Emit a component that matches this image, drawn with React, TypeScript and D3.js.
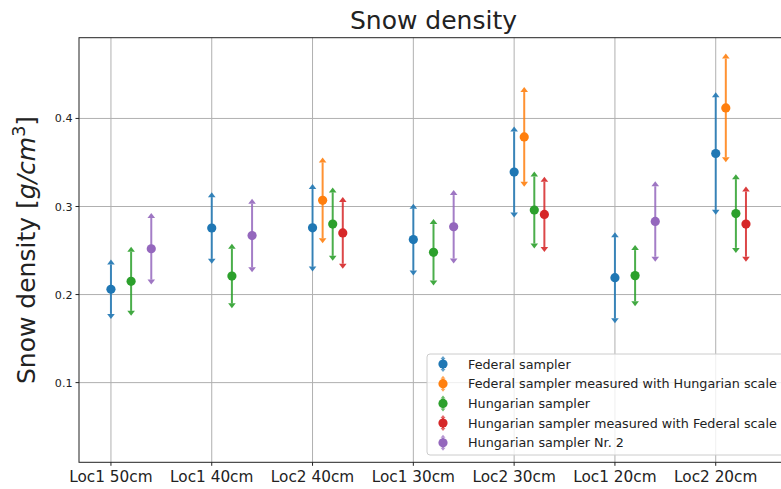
import React from "react";
import * as d3 from "d3";

const categories = ["Loc1 50cm", "Loc1 40cm", "Loc2 40cm", "Loc1 30cm", "Loc2 30cm", "Loc1 20cm", "Loc2 20cm"];
const seriesNames = [
  "Federal sampler",
  "Federal sampler measured with Hungarian scale",
  "Hungarian sampler",
  "Hungarian sampler measured with Federal scale",
  "Hungarian sampler Nr. 2",
];
const seriesColors = ["#1f77b4", "#ff7f0e", "#2ca02c", "#d62728", "#9467bd"];

const federal = [0.206, 0.2756, 0.2758, 0.2624, 0.3391, 0.2192, 0.3602];
const federalErr = [0.028, 0.035, 0.044, 0.035, 0.046, 0.046, 0.064];
const federalHu = [null, null, 0.307, null, 0.379, null, 0.412];
const federalHuErr = [null, null, 0.043, null, 0.051, null, 0.056];
const hungarian = [0.215, 0.221, 0.28, 0.248, 0.296, 0.2215, 0.292];
const hungarianErr = [0.0335, 0.031, 0.036, 0.032, 0.038, 0.029, 0.039];
const hungarianFed = [null, null, 0.27, null, 0.291, null, 0.28];
const hungarianFedErr = [null, null, 0.035, null, 0.037, null, 0.037];
const hungarian2 = [0.252, 0.267, null, 0.277, null, 0.283, null];
const hungarian2Err = [0.035, 0.036, null, 0.036, null, 0.04, null];

const seriesValues = [federal, federalHu, hungarian, hungarianFed, hungarian2];
const seriesErrors = [federalErr, federalHuErr, hungarianErr, hungarianFedErr, hungarian2Err];
const seriesOffsets = [0, 0.1, 0.2, 0.3, 0.4];
const yTicks = [0.1, 0.2, 0.3, 0.4];

const W = 781;
const H = 489;
const left = 79;
const right = 788;
const top = 37.7;
const bottom = 462.3;

const FONT = "DejaVu Sans, sans-serif";

export default function App() {
  const x = d3.scaleLinear().domain([-0.317, 6.717]).range([left, right]);
  const y = d3.scaleLinear().domain([0.0095, 0.4917]).range([bottom, top]);

  const tri = (cx: number, cy: number, dir: number) => {
    const h = 5;
    const w = 3.8;
    return `M${cx - w},${cy} L${cx + w},${cy} L${cx},${cy - dir * h} Z`;
  };

  const marks: any[] = [];
  seriesValues.forEach((vals, s) => {
    vals.forEach((v, i) => {
      if (v === null) return;
      const e = seriesErrors[s][i] as number;
      const cx = x(i + seriesOffsets[s]);
      const yt = y(v + e);
      const yb = y(v - e);
      const c = seriesColors[s];
      marks.push(
        <g key={`${s}-${i}`}>
          <line x1={cx} x2={cx} y1={yt} y2={yb} stroke={c} strokeWidth={2} strokeOpacity={0.85} />
          <path d={tri(cx, yt, 1)} fill={c} fillOpacity={0.9} />
          <path d={tri(cx, yb, -1)} fill={c} fillOpacity={0.9} />
          <circle cx={cx} cy={y(v)} r={4.6} fill={c} />
        </g>
      );
    });
  });

  const legLeft = 427;
  const legTop = 354;
  const legBottom = 455;
  const legRight = 786;
  const rowY = (k: number) => 364 + k * 19.7;

  return (
    <svg width={W} height={H} style={{ position: "absolute", left: 0, top: 0, background: "#fff" }} fontFamily={FONT}>
      <rect x={0} y={0} width={W} height={H} fill="#fff" />
      {categories.map((c, i) => (
        <line key={`gx${i}`} x1={x(i)} x2={x(i)} y1={top} y2={bottom} stroke="#b0b0b0" strokeWidth={1} />
      ))}
      {yTicks.map((t) => (
        <line key={`gy${t}`} x1={left} x2={right} y1={y(t)} y2={y(t)} stroke="#b0b0b0" strokeWidth={1} />
      ))}
      {marks}
      <rect x={left} y={top} width={right - left} height={bottom - top} fill="none" stroke="#222" strokeWidth={1} />
      {yTicks.map((t) => (
        <g key={`yt${t}`}>
          <line x1={left - 3.5} x2={left} y1={y(t)} y2={y(t)} stroke="#222" strokeWidth={1} />
          <text x={left - 6.5} y={y(t) + 4} textAnchor="end" fontSize={11.1} fill="#222">
            {d3.format(".1f")(t)}
          </text>
        </g>
      ))}
      {categories.map((c, i) => (
        <g key={`xt${i}`}>
          <line x1={x(i)} x2={x(i)} y1={bottom} y2={bottom + 3.5} stroke="#222" strokeWidth={1} />
          <text x={x(i)} y={bottom + 19.5} textAnchor="middle" fontSize={15.3} fill="#222">
            {c}
          </text>
        </g>
      ))}
      <text x={(left + right) / 2} y={29} textAnchor="middle" fontSize={25} fill="#222">
        Snow density
      </text>
      <text transform={`translate(35,${(top + bottom) / 2}) rotate(-90)`} textAnchor="middle" fontSize={25} fill="#222">
        Snow density [<tspan fontStyle="italic">g</tspan>
        <tspan fontStyle="italic">/</tspan>
        <tspan fontStyle="italic">cm</tspan>
        <tspan fontSize={17.5} dy={-10}>3</tspan>
        <tspan dy={10}>]</tspan>
      </text>
      <rect x={legLeft} y={legTop} width={legRight - legLeft} height={legBottom - legTop} rx={3} fill="#fff" fillOpacity={0.8} stroke="#cccccc" strokeWidth={1} />
      {seriesNames.map((n, k) => {
        const cy = rowY(k);
        const cx = 443;
        const c = seriesColors[k];
        return (
          <g key={`lg${k}`}>
            <line x1={cx} x2={cx} y1={cy - 5} y2={cy + 5} stroke={c} strokeWidth={2} strokeOpacity={0.85} />
            <path d={`M${cx - 2.5},${cy - 5} L${cx + 2.5},${cy - 5} L${cx},${cy - 8} Z`} fill={c} fillOpacity={0.7} />
            <path d={`M${cx - 2.5},${cy + 5} L${cx + 2.5},${cy + 5} L${cx},${cy + 8} Z`} fill={c} fillOpacity={0.7} />
            <circle cx={cx} cy={cy} r={4.6} fill={c} />
            <text x={468} y={cy + 4.5} fontSize={12.75} fill="#222">
              {n}
            </text>
          </g>
        );
      })}
    </svg>
  );
}
